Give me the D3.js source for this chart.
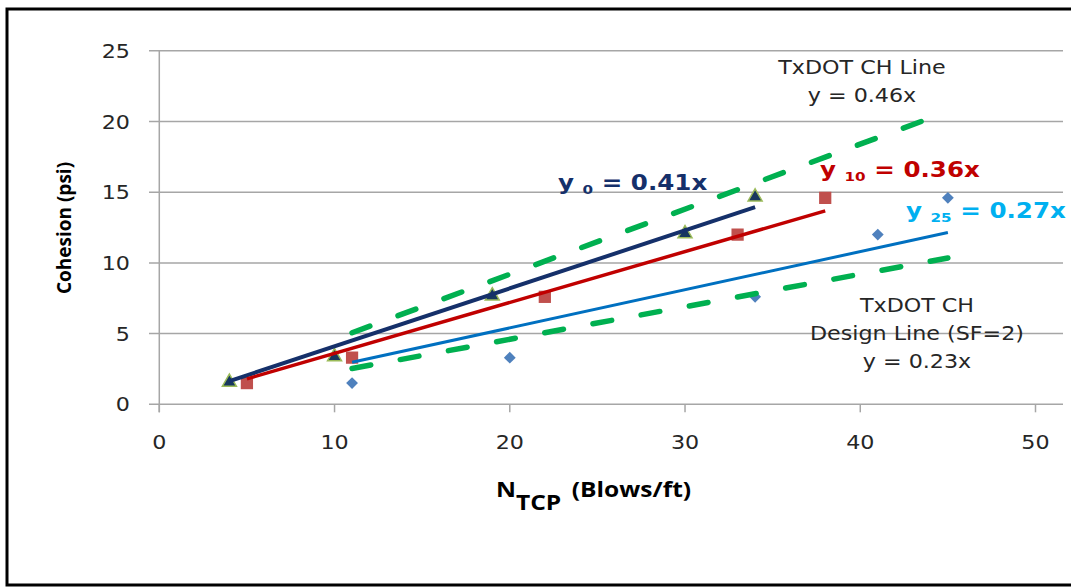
<!DOCTYPE html>
<html>
<head>
<meta charset="utf-8">
<script src="https://cdn.jsdelivr.net/npm/d3@7"></script>
<style>
body { margin: 0; background: #fff; }
svg { display: block; }
</style>
</head>
<body>
<script>
//cohesion vs N_TCP scatter with fitted lines and TxDOT lines

//values
var cohesion = [1.5, 3.3, 7.6, 12.0, 14.6];
var nTcp0 = [4, 10, 19, 30, 34];
var nTcp10 = [5, 11, 22, 33, 38];
var nTcp25 = [11, 20, 34, 41, 45];

//fitted lines y = slope * x
var fitSlopes = [0.41, 0.36, 0.27];
var fitFrom = [4, 5, 11];
var fitTo = [34, 38, 45];

//TxDOT lines (dashed)
var txdotSlopes = [0.46, 0.23];
var txdotFrom = 11, txdotTo = 45;

var xTicks = [0, 10, 20, 30, 40, 50];
var yTicks = [0, 5, 10, 15, 20, 25];

window.onload = drawChart();

function drawChart(){
    var width = 1071,
        height = 587,
        sx = 1.17; //the picture is stretched sideways, text too

    var svg = d3.select("body")
        .append("svg")
        .attr("width", width)
        .attr("height", height);

    var x = d3.scaleLinear().domain([0, 50]).range([159.3, 1035.5]);
    var y = d3.scaleLinear().domain([0, 25]).range([404.3, 50.8]);

    //frame
    svg.append("path")
        .attr("d", "M1075,9 H7 V585 H1075")
        .attr("fill", "none")
        .attr("stroke", "#000")
        .attr("stroke-width", 3);

    //gridlines
    svg.selectAll(".grid")
        .data(yTicks)
        .enter()
        .append("line")
        .attr("x1", 149)
        .attr("x2", 1063)
        .attr("y1", function(d){ return y(d); })
        .attr("y2", function(d){ return y(d); })
        .attr("stroke", "#a6a6a6")
        .attr("stroke-width", 1.5);

    svg.append("line")
        .attr("x1", x(0)).attr("x2", x(0))
        .attr("y1", y(25)).attr("y2", y(0) + 8)
        .attr("stroke", "#a6a6a6")
        .attr("stroke-width", 1.5);

    svg.selectAll(".xtick")
        .data(xTicks)
        .enter()
        .append("line")
        .attr("x1", function(d){ return x(d); })
        .attr("x2", function(d){ return x(d); })
        .attr("y1", y(0))
        .attr("y2", y(0) + 8)
        .attr("stroke", "#a6a6a6")
        .attr("stroke-width", 1.5);

    //tick labels
    svg.selectAll(".ylab")
        .data(yTicks)
        .enter()
        .append("text")
        .attr("transform", function(d){ return "translate(130," + (y(d) + 7) + ") scale(" + sx + ",1)"; })
        .attr("text-anchor", "end")
        .attr("font-family", "DejaVu Sans")
        .attr("font-size", 19)
        .attr("fill", "#262626")
        .text(function(d){ return d; });

    svg.selectAll(".xlab")
        .data(xTicks)
        .enter()
        .append("text")
        .attr("transform", function(d){ return "translate(" + x(d) + ",449) scale(" + sx + ",1)"; })
        .attr("text-anchor", "middle")
        .attr("font-family", "DejaVu Sans")
        .attr("font-size", 19)
        .attr("fill", "#262626")
        .text(function(d){ return d; });

    //axis titles
    svg.append("text")
        .attr("transform", "translate(71,228) rotate(-90)")
        .attr("text-anchor", "middle")
        .attr("font-family", "Open Sans")
        .attr("font-weight", "bold")
        .attr("font-size", 19)
        .attr("fill", "#000")
        .text("Cohesion (psi)");

    var xt = svg.append("text")
        .attr("transform", "translate(496,497) scale(" + sx + ",1)")
        .attr("font-family", "Open Sans")
        .attr("font-weight", "bold")
        .attr("font-size", 21)
        .attr("fill", "#000");
    xt.append("tspan").text("N");
    xt.append("tspan").attr("dy", 13).text("TCP");
    xt.append("tspan").attr("dy", -13).attr("dx", 9).text("(Blows/ft)");

    //markers
    var diamond = d3.symbol().type(d3.symbolSquare).size(70);
    svg.selectAll(".d25")
        .data(nTcp25)
        .enter()
        .append("path")
        .attr("d", diamond)
        .attr("transform", function(d, i){ return "translate(" + x(d) + "," + y(cohesion[i]) + ") rotate(45)"; })
        .attr("fill", "#4f81bd");

    var square = d3.symbol().type(d3.symbolSquare).size(150);
    svg.selectAll(".s10")
        .data(nTcp10)
        .enter()
        .append("path")
        .attr("d", square)
        .attr("transform", function(d, i){ return "translate(" + x(d) + "," + y(cohesion[i]) + ")"; })
        .attr("fill", "#c0504d");

    var tri = d3.symbol().type(d3.symbolTriangle).size(85);
    svg.selectAll(".t0")
        .data(nTcp0)
        .enter()
        .append("path")
        .attr("d", tri)
        .attr("transform", function(d, i){ return "translate(" + x(d) + "," + (y(cohesion[i]) - 1) + ")"; })
        .attr("fill", "#17375e")
        .attr("stroke", "#9bbb59")
        .attr("stroke-width", 1.5);

    //fitted lines
    var fitColors = ["#15306a", "#c00000", "#0070c0"],
        fitWidths = [4, 3.5, 3];
    fitSlopes.forEach(function(m, i){
        svg.append("line")
            .attr("x1", x(fitFrom[i]))
            .attr("y1", y(m * fitFrom[i]))
            .attr("x2", x(fitTo[i]))
            .attr("y2", y(m * fitTo[i]))
            .attr("stroke", fitColors[i])
            .attr("stroke-width", fitWidths[i]);
    });

    //TxDOT lines
    txdotSlopes.forEach(function(m){
        svg.append("line")
            .attr("x1", x(txdotFrom))
            .attr("y1", y(m * txdotFrom))
            .attr("x2", x(txdotTo))
            .attr("y2", y(m * txdotTo))
            .attr("stroke", "#00b050")
            .attr("stroke-width", 5.5)
            .attr("stroke-linecap", "round")
            .attr("stroke-dasharray", "19,30");
    });

    //equation labels
    function eqLabel(px, py, color, sub, rest){
        var t = svg.append("text")
            .attr("transform", "translate(" + px + "," + py + ") scale(" + sx + ",1)")
            .attr("font-family", "DejaVu Sans")
            .attr("font-weight", "bold")
            .attr("font-size", 21)
            .attr("fill", color);
        t.append("tspan").text("y ");
        t.append("tspan").attr("font-size", 13).attr("dy", 4).text(sub);
        t.append("tspan").attr("dy", -4).text(" = " + rest);
    }
    eqLabel(558, 190, "#15306a", "0", "0.41x");
    eqLabel(820, 177, "#c00000", "10", "0.36x");
    eqLabel(906, 218, "#00b0f0", "25", "0.27x");

    //TxDOT notes
    function note(px, py, str){
        svg.append("text")
            .attr("transform", "translate(" + px + "," + py + ") scale(" + sx + ",1)")
            .attr("text-anchor", "middle")
            .attr("font-family", "DejaVu Sans")
            .attr("font-size", 19)
            .attr("fill", "#262626")
            .text(str);
    }
    note(862, 74, "TxDOT CH Line");
    note(862, 102, "y = 0.46x");
    note(917, 312, "TxDOT CH");
    note(917, 340, "Design Line (SF=2)");
    note(917, 368, "y = 0.23x");
}
</script>
</body>
</html>
